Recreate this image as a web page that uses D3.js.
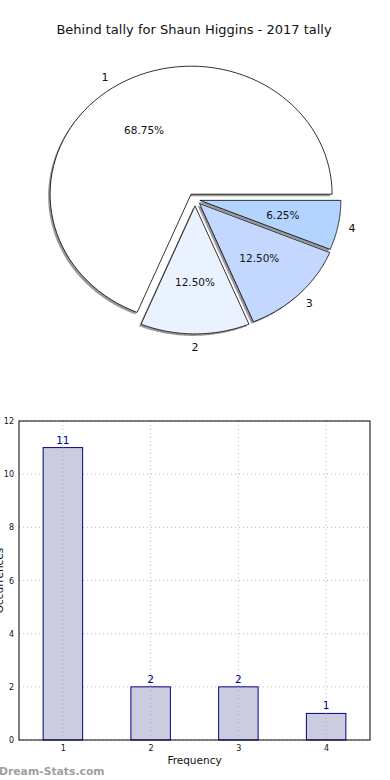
<!DOCTYPE html>
<html lang="en">
<head>
    <meta charset="utf-8">
    <title>Behind tally for Shaun Higgins - 2017 tally</title>
    <style type="text/css">
        body { margin: 0; background: #fff; }
        svg { display: block; }
        text { font-family: 'DejaVu Sans', 'Verdana', sans-serif; }
    </style>
    <script src="https://cdn.jsdelivr.net/npm/d3@7"></script>
</head>
<body>
<script type="text/javascript">
    // data
    var categories = ["1", "2", "3", "4"];
    var counts = [11, 2, 2, 1];
    var sliceColors = ["#ffffff", "#ebf2ff", "#c4d8ff", "#b3d4ff"];
    var explode = [0.05, 0.05, 0.045, 0.035];
    var yTicks = [0, 2, 4, 6, 8, 10, 12];

    var W = 390, H = 780;
    var svg = d3.select("body").append("svg")
        .attr("width", W)
        .attr("height", H);

    /* TITLE */
    svg.append("text")
        .attr("x", 194).attr("y", 34)
        .attr("text-anchor", "middle")
        .attr("font-size", 13)
        .attr("fill", "#111")
        .text("Behind tally for Shaun Higgins - 2017 tally");

    /* PIE */
    var cx = 195, cy = 199.5, rx = 141, ry = 128;
    var total = d3.sum(counts);
    var pie = d3.pie().sort(null).value(function(d) { return d; });
    var arcs = pie(counts);

    // d3.pie angles used as fractions of a turn, counter-clockwise from east (matplotlib style)
    var slices = arcs.map(function(a, i) {
        var t1 = a.startAngle, t2 = a.endAngle;
        var mid = (t1 + t2) / 2;
        var dx = explode[i] * rx * Math.cos(mid);
        var dy = -explode[i] * ry * Math.sin(mid);
        return { i: i, t1: t1, t2: t2, mid: mid, ox: cx + dx, oy: cy + dy, value: a.value };
    });

    function wedgePath(s) {
        var path = d3.path();
        var steps = 80;
        path.moveTo(s.ox, s.oy);
        for (var k = 0; k <= steps; k++) {
            var t = s.t1 + (s.t2 - s.t1) * k / steps;
            path.lineTo(s.ox + rx * Math.cos(t), s.oy - ry * Math.sin(t));
        }
        path.closePath();
        return path.toString();
    }

    var gPie = svg.append("g");

    // shadows
    gPie.selectAll("path.shadow")
        .data(slices)
        .enter().append("path")
        .attr("class", "shadow")
        .attr("d", wedgePath)
        .attr("transform", "translate(-2,2)")
        .attr("fill", "#999999")
        .attr("stroke", "none");

    gPie.selectAll("path.wedge")
        .data(slices)
        .enter().append("path")
        .attr("class", "wedge")
        .attr("d", wedgePath)
        .attr("fill", function(d) { return sliceColors[d.i]; })
        .attr("stroke", "#000")
        .attr("stroke-width", 0.8)
        .attr("stroke-linejoin", "miter");

    gPie.selectAll("text.lab")
        .data(slices)
        .enter().append("text")
        .attr("class", "lab")
        .attr("x", function(d) { return d.ox + 1.1 * rx * Math.cos(d.mid); })
        .attr("y", function(d) { return d.oy - 1.1 * ry * Math.sin(d.mid); })
        .attr("dy", "0.35em")
        .attr("text-anchor", "middle")
        .attr("font-size", 11)
        .attr("fill", "#111")
        .text(function(d) { return categories[d.i]; });

    gPie.selectAll("text.pct")
        .data(slices)
        .enter().append("text")
        .attr("class", "pct")
        .attr("x", function(d) { return d.ox + 0.6 * rx * Math.cos(d.mid); })
        .attr("y", function(d) { return d.oy - 0.6 * ry * Math.sin(d.mid); })
        .attr("dy", "0.35em")
        .attr("text-anchor", "middle")
        .attr("font-size", 10.5)
        .attr("fill", "#111")
        .text(function(d) { return (d.value / total * 100).toFixed(2) + "%"; });

    /* BAR CHART */
    var plotL = 19, plotR = 370, plotT = 421, plotB = 740;
    var x = d3.scaleLinear().domain([0.5, 4.5]).range([plotL, plotR]);
    var y = d3.scaleLinear().domain([0, 12]).range([plotB, plotT]);
    var barW = 0.45;

    var gBar = svg.append("g");

    // grid
    gBar.selectAll("line.hgrid")
        .data(yTicks)
        .enter().append("line")
        .attr("class", "hgrid")
        .attr("x1", plotL).attr("x2", plotR)
        .attr("y1", function(d) { return y(d); })
        .attr("y2", function(d) { return y(d); })
        .attr("stroke", "#bdbdbd")
        .attr("stroke-width", 1)
        .attr("stroke-dasharray", "1,3");

    gBar.selectAll("line.vgrid")
        .data(categories)
        .enter().append("line")
        .attr("class", "vgrid")
        .attr("x1", function(d) { return x(+d); })
        .attr("x2", function(d) { return x(+d); })
        .attr("y1", plotT).attr("y2", plotB)
        .attr("stroke", "#bdbdbd")
        .attr("stroke-width", 1)
        .attr("stroke-dasharray", "1,3");

    gBar.selectAll("rect.bar")
        .data(counts)
        .enter().append("rect")
        .attr("class", "bar")
        .attr("x", function(d, i) { return x(+categories[i] - barW / 2); })
        .attr("y", function(d) { return y(d); })
        .attr("width", function(d, i) { return x(+categories[i] + barW / 2) - x(+categories[i] - barW / 2); })
        .attr("height", function(d) { return plotB - y(d); })
        .attr("fill", "#ccccdf")
        .attr("stroke", "#00008b")
        .attr("stroke-width", 1);

    // grid shows through the bars in the original
    gBar.selectAll("line.vgrid2")
        .data(categories)
        .enter().append("line")
        .attr("class", "vgrid2")
        .attr("x1", function(d) { return x(+d); })
        .attr("x2", function(d) { return x(+d); })
        .attr("y1", function(d, i) { return y(counts[i]); }).attr("y2", plotB)
        .attr("stroke", "#a8a8b8")
        .attr("stroke-width", 1)
        .attr("stroke-dasharray", "1,3");

    gBar.selectAll("text.val")
        .data(counts)
        .enter().append("text")
        .attr("class", "val")
        .attr("x", function(d, i) { return x(+categories[i]); })
        .attr("y", function(d) { return y(d) - 4; })
        .attr("text-anchor", "middle")
        .attr("font-size", 10.5)
        .attr("fill", "#00008b")
        .text(function(d) { return d; });

    // frame
    gBar.append("rect")
        .attr("x", plotL).attr("y", plotT)
        .attr("width", plotR - plotL).attr("height", plotB - plotT)
        .attr("fill", "none")
        .attr("stroke", "#000")
        .attr("stroke-width", 1);

    var yAxis = d3.axisLeft(y).tickValues(yTicks).tickSize(0).tickPadding(5);
    gBar.append("g")
        .attr("transform", "translate(" + plotL + ",0)")
        .call(yAxis)
        .call(function(g) { g.select(".domain").remove(); })
        .selectAll("text")
        .attr("font-size", 8)
        .attr("font-family", "'DejaVu Sans', sans-serif")
        .attr("fill", "#111");

    var xAxis = d3.axisBottom(x).tickValues(categories.map(Number)).tickFormat(d3.format("d")).tickSize(0).tickPadding(5);
    gBar.append("g")
        .attr("transform", "translate(0," + plotB + ")")
        .call(xAxis)
        .call(function(g) { g.select(".domain").remove(); })
        .selectAll("text")
        .attr("font-size", 8)
        .attr("font-family", "'DejaVu Sans', sans-serif")
        .attr("fill", "#111");

    svg.append("text")
        .attr("x", (plotL + plotR) / 2).attr("y", 764)
        .attr("text-anchor", "middle")
        .attr("font-size", 10.5)
        .attr("fill", "#111")
        .text("Frequency");

    svg.append("text")
        .attr("transform", "translate(3," + ((plotT + plotB) / 2) + ") rotate(-90)")
        .attr("text-anchor", "middle")
        .attr("font-size", 10.5)
        .attr("fill", "#111")
        .text("Occurrences");

    svg.append("text")
        .attr("x", -1).attr("y", 775)
        .attr("font-size", 10.8)
        .attr("font-weight", "bold")
        .attr("fill", "#a0a0a0")
        .text("Dream-Stats.com");
</script>
</body>
</html>
